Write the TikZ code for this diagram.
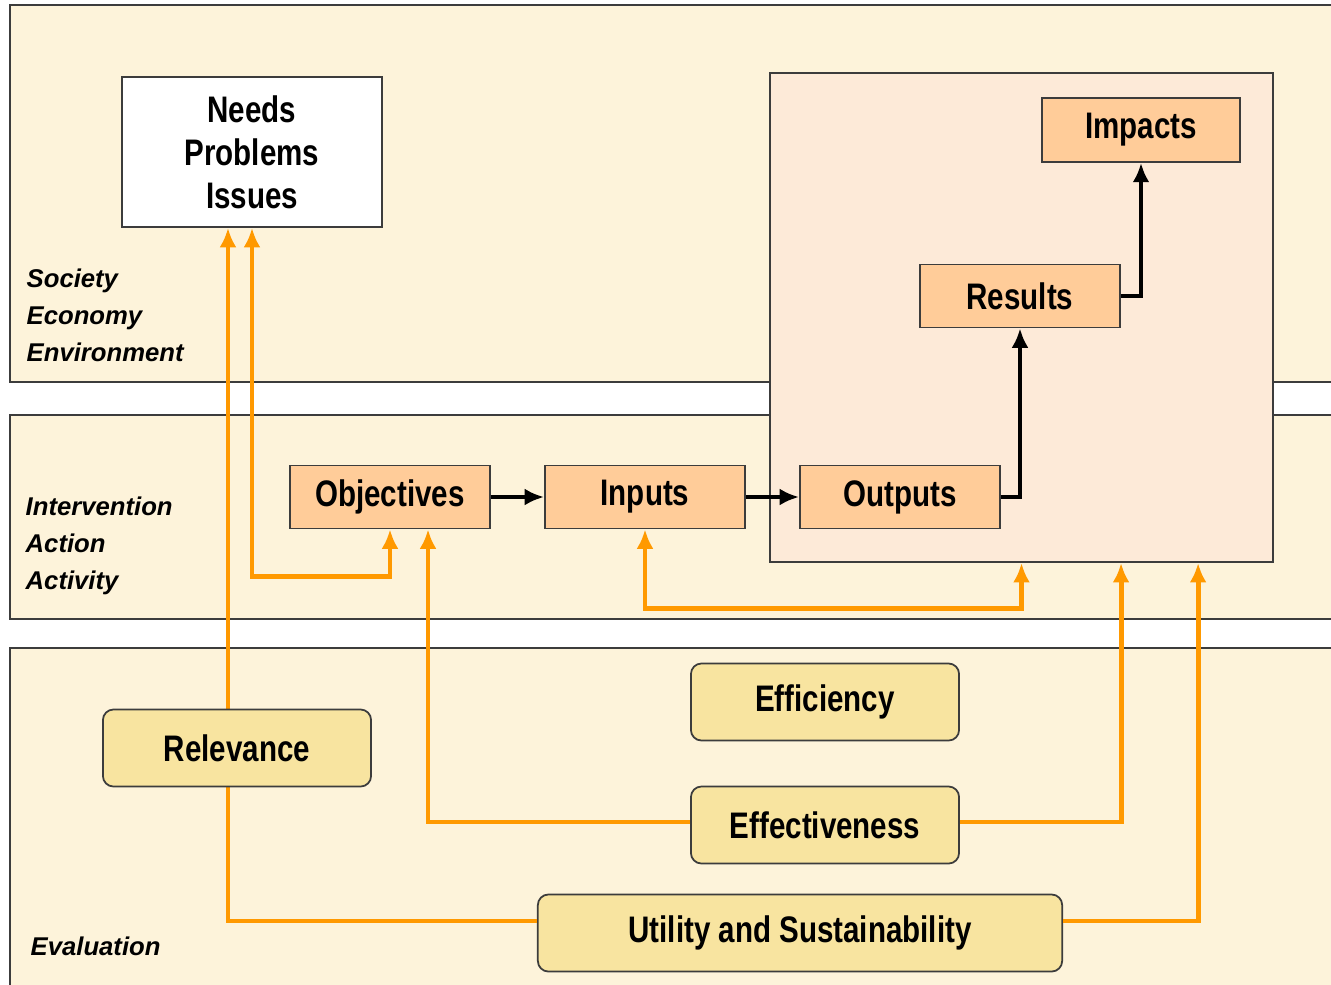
\documentclass[tikz,border=0pt]{standalone}
\usepackage{fontspec}
\setmainfont{Liberation Sans}
\newfontfamily\boxfont{Liberation Sans}[FakeStretch=0.8]
\usetikzlibrary{arrows.meta}
\definecolor{bandfill}{RGB}{253,243,218}
\definecolor{effectfill}{RGB}{253,234,216}
\definecolor{stagefill}{RGB}{255,204,153}
\definecolor{evalfill}{RGB}{248,228,160}
\definecolor{evalline}{RGB}{255,153,0}
\definecolor{edge}{RGB}{60,60,60}

\begin{document}
\begin{tikzpicture}[x=0.01cm,y=-0.01cm,
  >={Latex[length=5.5pt,width=4.8pt]},
  band/.style={draw=edge,line width=0.5pt,fill=bandfill},
  stage/.style={draw=edge,line width=0.5pt,fill=stagefill,minimum width=2cm,
    minimum height=0.63cm,font={\boxfont\bfseries\fontsize{10.5}{12.2}\selectfont}},
  evalbox/.style={stage,fill=evalfill,rounded corners=3pt,minimum height=0.77cm},
  tier/.style={anchor=west,align=left,inner sep=0pt,
    font={\bfseries\itshape\fontsize{7.3}{10.5}\selectfont}},
  flow/.style={->,line width=1.1pt},
  link/.style={->,draw=evalline,line width=1.4pt}]
\useasboundingbox (0,0) rectangle (1331,984);
\clip (0,0) rectangle (1331,984);
% three levels
\draw[band] (10,5) rectangle (1345,382);
\draw[band] (10,415) rectangle (1345,619);
\draw[band] (10,648) rectangle (1345,1000);
\node[tier] (society) at (26,315) {Society\\Economy\\Environment};
\node[tier] (action) at (25,546) {Intervention\\Action\\Activity};
\node[tier] (evaluation) at (30,946) {Evaluation};
% effects of the intervention
\node[draw=edge,line width=0.5pt,fill=effectfill,minimum width=5.03cm,
  minimum height=4.89cm] (effects) at (1021.5,317.5) {};
\node[stage,fill=white,minimum width=2.6cm,minimum height=1.5cm,align=center]
  (needs) at (252,152) {Needs\\Problems\\Issues};
\node[stage] (objectives) at (390,497) {Objectives};
\node[stage] (inputs) at (645,497) {Inputs};
\node[stage] (outputs) at (900,497) {Outputs};
\node[stage] (results) at (1020,296) {Results};
\node[stage,minimum width=1.98cm,minimum height=0.64cm] (impacts) at (1141,130) {Impacts};
\draw[flow] (objectives) -- (inputs);
\draw[flow] (inputs) -- (outputs);
\draw[flow] (outputs.east) -| (results.south);
\draw[flow] (results.east) -| (impacts.south);
% evaluation criteria
\node[evalbox,minimum width=5.24cm] (utility) at (800,933) {Utility and Sustainability};
\draw[link] ([yshift=0.12cm]utility.west) -| ([xshift=-0.24cm]needs.south);
\draw[link,<->] (needs.south) -- ++(0,349) -| (objectives.south);
\draw[link,<->] (inputs.south) -- ++(0,79) -| (effects.south);
\node[evalbox,minimum width=2.68cm] (relevance) at (237,748) {Relevance};
\node[evalbox,minimum width=2.68cm] (efficiency) at (825,702) {Efficiency};
\node[evalbox,minimum width=2.68cm] (effectiveness) at (825,825) {Effectiveness};
\draw[link] ([yshift=0.03cm]effectiveness.west) -| ([xshift=0.38cm]objectives.south);
\draw[link] ([yshift=0.03cm]effectiveness.east) -| ([xshift=0.995cm]effects.south);
\draw[link] ([yshift=0.12cm]utility.east) -| ([xshift=1.765cm]effects.south);
\end{tikzpicture}
\end{document}
